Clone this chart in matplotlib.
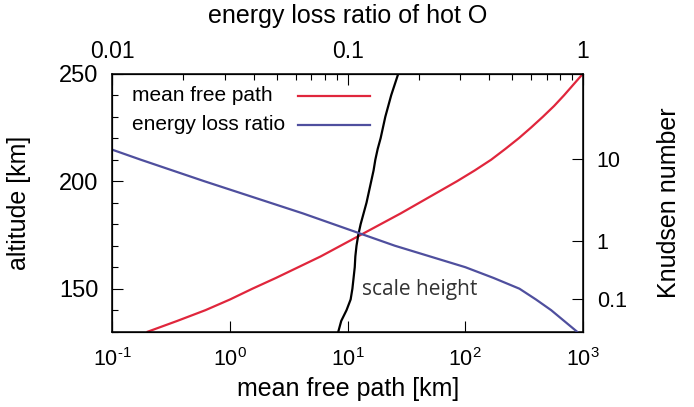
import matplotlib
matplotlib.use("Agg")
import matplotlib.pyplot as plt
from matplotlib.lines import Line2D
import numpy as np

# altitude grid [km]
altitude = [130, 135, 140, 145, 150, 155, 160, 165, 170, 175, 180, 185, 190,
            195, 200, 205, 210, 215, 220, 225, 230, 235, 240, 245, 250]

# log10 of mean free path [km] (bottom axis)
log_mfp = [-0.70, -0.45, -0.21, 0.00, 0.19, 0.39, 0.58, 0.77, 0.94, 1.11, 1.28, 1.45, 1.61,
           1.77, 1.93, 2.08, 2.22, 2.34, 2.455, 2.56, 2.66, 2.755, 2.84, 2.92, 3.00]

# log10 of scale height [km] (bottom axis)
log_sh = [0.92, 0.945, 0.99, 1.025, 1.04, 1.05, 1.06, 1.065, 1.075, 1.09, 1.11, 1.135, 1.16,
          1.18, 1.20, 1.22, 1.235, 1.255, 1.28, 1.30, 1.32, 1.345, 1.37, 1.40, 1.43]

# log10 of energy loss ratio of hot O (top axis)
el_alt = [130, 135, 140, 145, 150, 155, 160, 165, 170, 175, 180, 185, 190,
          195, 200, 205, 210, 215, 220]
log_eloss = [-0.025, -0.08, -0.135, -0.20, -0.27, -0.38, -0.50, -0.65, -0.80, -0.93, -1.06,
             -1.19, -1.33, -1.47, -1.61, -1.745, -1.88, -2.01, -2.14]

# Knudsen number ticks on the right axis (altitude where they sit)
kn_alt = [145.1, 172.1, 210.4]
kn_labels = ["0.1", "1", "10"]

RED = "#e0263c"
BLUE = "#4f4f9e"

plt.rcParams["font.family"] = ["Liberation Sans", "DejaVu Sans"]
plt.rcParams["mathtext.fontset"] = "custom"
plt.rcParams["mathtext.rm"] = "Liberation Sans"
plt.rcParams["mathtext.it"] = "Liberation Sans"

fig = plt.figure(figsize=(6.94, 4.07), dpi=100)
ax = fig.add_axes([0.162, 0.185, 0.678, 0.634])

mfp = 10 ** np.array(log_mfp)
sh = 10 ** np.array(log_sh)
eloss = 10 ** np.array(log_eloss)

ax.plot(mfp, altitude, color=RED, lw=1.6)
ax.plot(sh, altitude, color="black", lw=1.6)
ax.set_xscale("log")
ax.set_xlim(0.1, 1000)
ax.set_ylim(130, 250)
xt = [0.1, 1, 10, 100, 1000]
ax.set_xticks(xt)
ax.set_xticklabels([r"$10^{\text{-}1}$", r"$10^{0}$", r"$10^{1}$", r"$10^{2}$", r"$10^{3}$"])
ax.set_yticks([150, 200, 250])
ax.set_yticks(np.arange(130, 251, 10), minor=True)
ax.set_xlabel("mean free path [km]", fontsize=18, labelpad=4)
ax.set_ylabel("altitude [km]", fontsize=18, labelpad=20)
ax.tick_params(which="both", direction="in", width=0.8, top=False, right=False)
ax.tick_params(axis="x", labelsize=15.5)
ax.tick_params(axis="y", labelsize=17)
ax.tick_params(which="major", length=8)
ax.tick_params(which="minor", length=4.5)
ax.tick_params(axis="x", which="major", pad=12)
ax.tick_params(axis="y", which="major", pad=10)
for s in ax.spines.values():
    s.set_linewidth(1.1)

ax.text(0.53, 0.165, "scale height", transform=ax.transAxes, fontsize=15,
        family=["Open Sans", "DejaVu Sans"], color="#333333",
        ha="left", va="center")

# gnuplot style key: label on the left, sample line on the right
key = [("mean free path", RED, 0.914), ("energy loss ratio", BLUE, 0.802)]
for label, col, yk in key:
    ax.text(0.041, yk, label, transform=ax.transAxes, fontsize=15,
            ha="left", va="center")
    ax.add_line(Line2D([0.394, 0.547], [yk, yk], transform=ax.transAxes,
                       color=col, lw=1.6))

# top axis: energy loss ratio
axt = ax.twiny()
axt.plot(eloss, el_alt, color=BLUE, lw=1.6)
axt.set_xscale("log")
axt.set_xlim(0.01, 1)
axt.set_xticks([0.01, 0.1, 1])
axt.set_xticklabels(["0.01", "0.1", "1"])
axt.set_xlabel("energy loss ratio of hot O", fontsize=18, labelpad=12)
axt.tick_params(which="both", direction="in", labelsize=16.5, width=0.8)
axt.tick_params(which="major", length=8, pad=8)
axt.tick_params(which="minor", length=4.5)
axt.set_ylim(130, 250)

# right axis: Knudsen number
axr = ax.twinx()
axr.set_ylim(130, 250)
axr.set_yticks(kn_alt)
axr.set_yticklabels(kn_labels)
axr.set_ylabel("Knudsen number", fontsize=18, labelpad=22)
axr.tick_params(direction="in", length=8, width=0.8, labelsize=15.5, pad=10)
axr.minorticks_off()

fig.savefig("out.png", dpi=100)
